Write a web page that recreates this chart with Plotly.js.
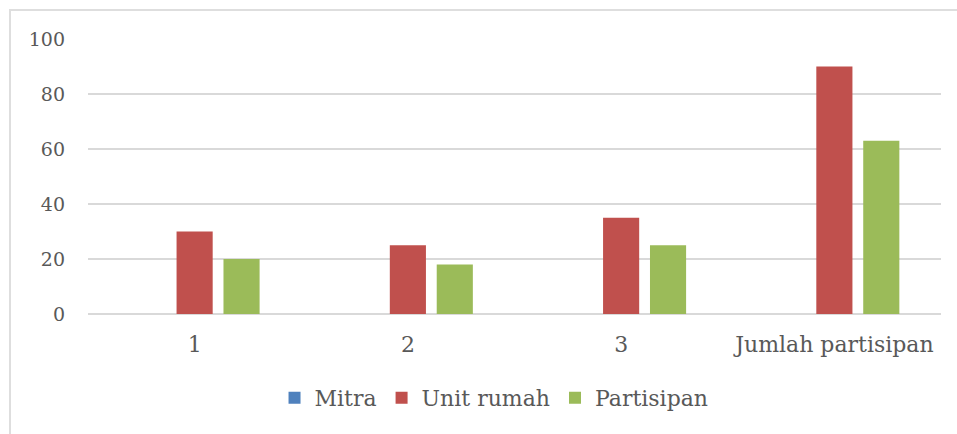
<!DOCTYPE html>
<html>
<head>
<meta charset="utf-8">
<script src="https://cdn.plot.ly/plotly-3.0.1.min.js"></script>
<style>
html,body{margin:0;padding:0;background:#fff;overflow:hidden;}
#chart{position:absolute;left:0;top:0;width:957px;height:434px;}
#frame{position:absolute;left:9px;top:9px;width:1200px;height:1200px;border-left:2px solid #dedede;border-top:2px solid #dedede;pointer-events:none;}
</style>
</head>
<body>
<div id="chart"></div>
<div id="frame"></div>
<script>
const categories = ["1", "2", "3", "Jumlah partisipan"];
const seriesNames = ["Mitra", "Unit rumah", "Partisipan"];
const mitra = [0, 0, 0, 0];
const unitRumah = [30, 25, 35, 90];
const partisipan = [20, 18, 25, 63];
const colors = ["#4F81BD", "#C0504D", "#9BBB59"];
const yTicks = [0, 20, 40, 60, 80, 100];

const font = "Century Schoolbook, 'DejaVu Serif', serif";
const values = [mitra, unitRumah, partisipan];
const traces = values.map((v, i) => ({
  type: "bar",
  name: seriesNames[i],
  x: categories,
  y: v,
  marker: {color: colors[i]},
  hoverinfo: "skip"
}));

const layout = {
  width: 957, height: 434,
  margin: {l: 88, r: 16, t: 39, b: 120},
  paper_bgcolor: "#fff", plot_bgcolor: "#fff",
  barmode: "group",
  bargap: 0.34,
  bargroupgap: 0.23,
  font: {family: font, size: 22, color: "#595959"},
  xaxis: {
    type: "category",
    showgrid: false, zeroline: false, showline: false,
    ticks: "", ticklabelstandoff: 15,
    tickfont: {family: font, size: 22, color: "#595959"}
  },
  yaxis: {
    range: [0, 100], tickvals: yTicks, ticktext: yTicks.map(String),
    showgrid: true, gridcolor: "#d9d9d9", gridwidth: 1.5,
    zeroline: true, zerolinecolor: "#d9d9d9", zerolinewidth: 1.5,
    showline: false, ticks: "", ticklabelstandoff: 22,
    tickfont: {family: font, size: 19, color: "#595959"}
  },
  showlegend: true,
  legend: {
    orientation: "h", x: 0.476, xanchor: "center", y: -0.305, yanchor: "middle",
    font: {family: font, size: 22, color: "#595959"},
    traceorder: "normal", itemclick: false
  }
};

Plotly.newPlot("chart", traces, layout, {staticPlot: true, displayModeBar: false});
</script>
</body>
</html>
